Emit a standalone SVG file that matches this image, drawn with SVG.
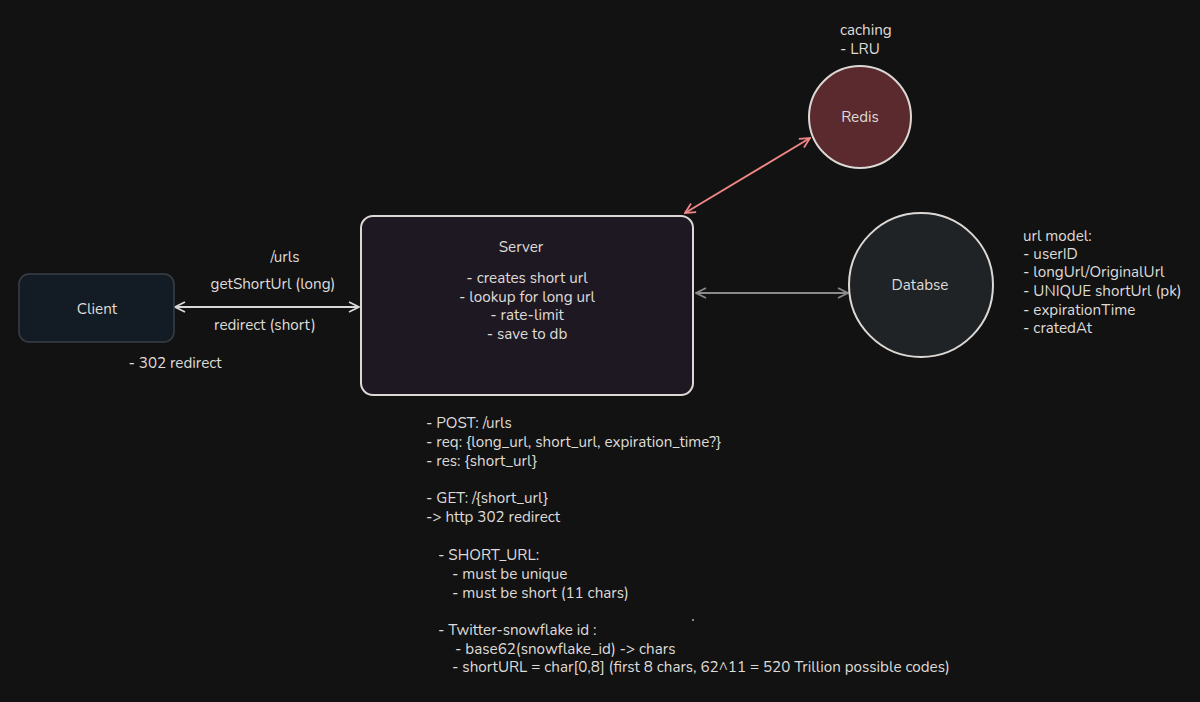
<svg xmlns="http://www.w3.org/2000/svg" width="1200" height="702" viewBox="0 0 1200 702">
<defs>
<style>
text{font-family:"Nunito","Lato","Open Sans","Liberation Sans",sans-serif;font-size:15.2px;fill:#dedbd8}
.c{text-anchor:middle}
.node{stroke:#dcd8d4;stroke-width:2}
.link{fill:none;stroke-width:2}
</style>
<marker id="ahW" viewBox="0 0 12 12" refX="11" refY="6" markerWidth="12" markerHeight="12" markerUnits="userSpaceOnUse" orient="auto-start-reverse"><path d="M1,1 L11,6 L1,11" fill="none" stroke="#d8d8d8" stroke-width="1.8"/></marker>
<marker id="ahG" viewBox="0 0 12 12" refX="11" refY="6" markerWidth="12" markerHeight="12" markerUnits="userSpaceOnUse" orient="auto-start-reverse"><path d="M1,1 L11,6 L1,11" fill="none" stroke="#8a8a8a" stroke-width="1.8"/></marker>
<marker id="ahR" viewBox="0 0 12 12" refX="11" refY="6" markerWidth="12" markerHeight="12" markerUnits="userSpaceOnUse" orient="auto-start-reverse"><path d="M1,1 L11,6 L1,11" fill="none" stroke="#f08585" stroke-width="1.8"/></marker>
</defs>
<rect width="1200" height="702" fill="#121212"/>

<g id="connectors">
<line class="link" x1="175" y1="307" x2="359" y2="307" stroke="#d8d8d8" marker-start="url(#ahW)" marker-end="url(#ahW)"/>
<line class="link" x1="696" y1="293" x2="848" y2="293" stroke="#8a8a8a" marker-start="url(#ahG)" marker-end="url(#ahG)"/>
<line class="link" x1="685" y1="213" x2="810" y2="138" stroke="#f08585" marker-start="url(#ahR)" marker-end="url(#ahR)"/>
<text x="285" y="262" class="c">/urls</text>
<text x="273" y="289" class="c">getShortUrl (long)</text>
<text x="265" y="330" class="c">redirect (short)</text>
<text x="175" y="368" class="c">- 302 redirect</text>
</g>

<g id="client">
<rect x="19" y="274" width="155" height="68" rx="10" fill="#131c24" stroke="#3a3f45" stroke-width="1.5"/>
<text x="97" y="314" class="c">Client</text>
</g>

<g id="server">
<rect class="node" x="361" y="216" width="332" height="179" rx="12" fill="#1e1823"/>
<text x="521" y="252" class="c">Server</text>
<text x="527" y="283" class="c">- creates short url</text>
<text x="527" y="302" class="c">- lookup for long url</text>
<text x="527" y="320" class="c">- rate-limit</text>
<text x="527" y="339" class="c">- save to db</text>
</g>

<g id="redis">
<circle class="node" cx="860" cy="117" r="51" fill="#5a2a2e"/>
<text x="860" y="122" class="c">Redis</text>
<text x="840" y="35">caching</text>
<text x="840" y="54">- LRU</text>
</g>

<g id="database">
<circle class="node" cx="921" cy="285" r="72" fill="#1f2326"/>
<text x="920" y="290" class="c">Databse</text>
</g>

<g id="url-model">
<text x="1023" y="241">url model:</text>
<text x="1023" y="259">- userID</text>
<text x="1023" y="277">- longUrl/OriginalUrl</text>
<text x="1023" y="296">- UNIQUE shortUrl (pk)</text>
<text x="1023" y="315">- expirationTime</text>
<text x="1023" y="333">- cratedAt</text>
</g>

<g id="notes">
<text x="426" y="428">- POST: /urls</text>
<text x="426" y="447">- req: {long_url, short_url, expiration_time?}</text>
<text x="426" y="466">- res: {short_url}</text>
<text x="426" y="503">- GET: /{short_url}</text>
<text x="426" y="522">-&gt; http 302 redirect</text>
<text x="438" y="560">- SHORT_URL:</text>
<text x="452" y="579">- must be unique</text>
<text x="452" y="598">- must be short (11 chars)</text>
<text x="438" y="635">- Twitter-snowflake id :</text>
<text x="455" y="654">- base62(snowflake_id) -&gt; chars</text>
<text x="452" y="672">- shortURL = char[0,8] (first 8 chars, 62^11 = 520 Trillion possible codes)</text>
<circle cx="693" cy="620" r="0.9" fill="#bbbbbb"/>
</g>
</svg>
